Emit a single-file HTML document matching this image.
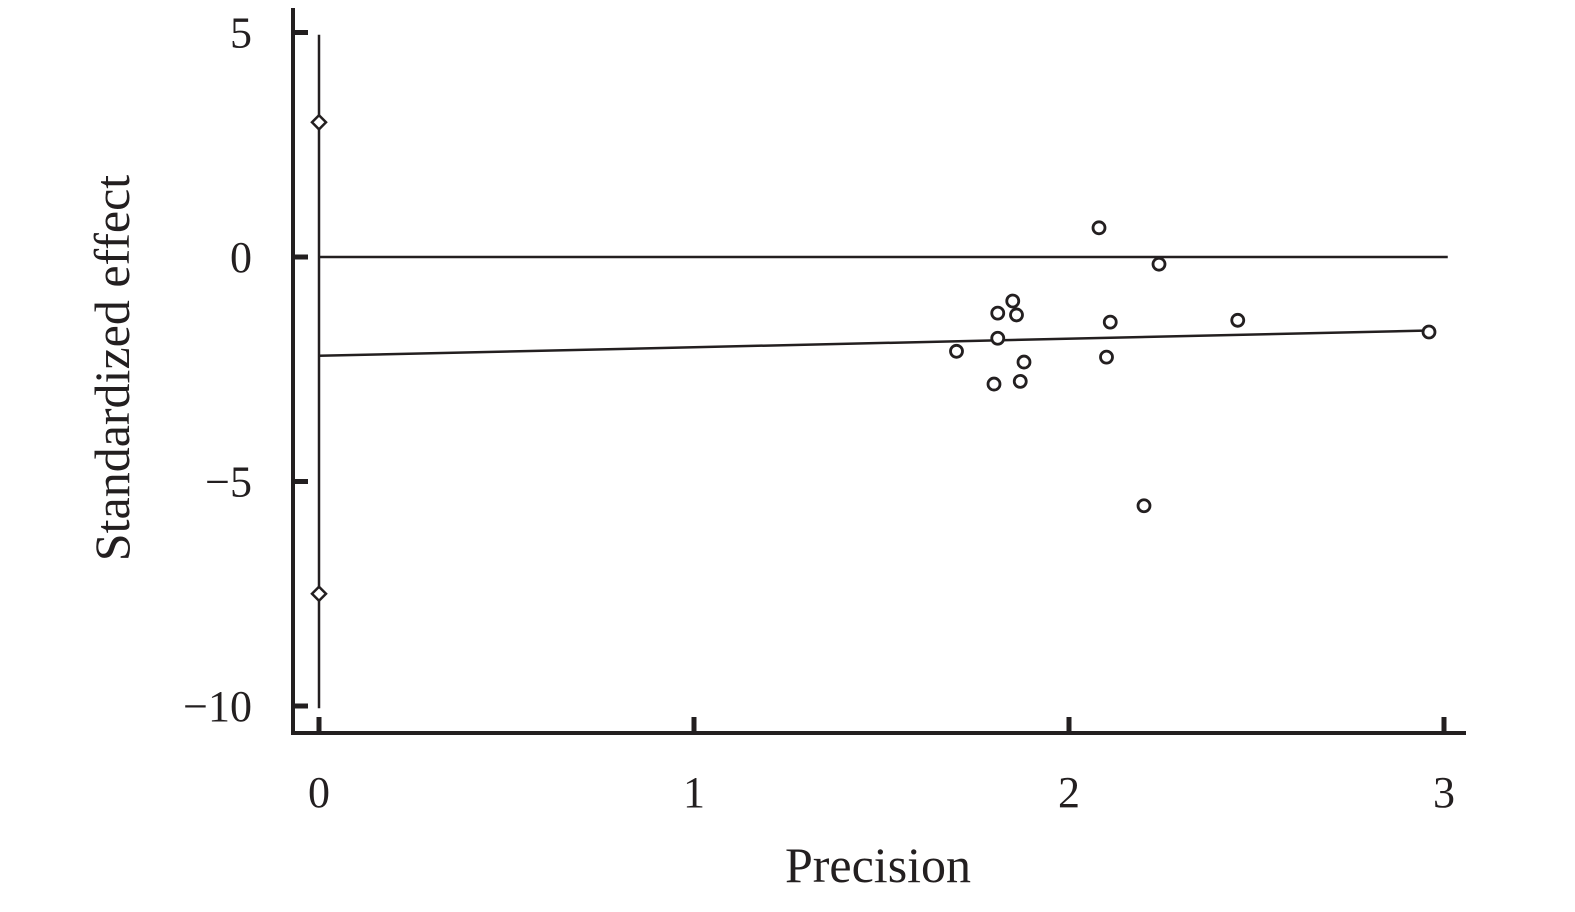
<!DOCTYPE html>
<html><head><meta charset="utf-8"><style>
body{margin:0;background:#fff}
svg text{font-family:"Liberation Serif",serif;fill:#231f20}
</style></head><body>
<svg width="1575" height="907" viewBox="0 0 1575 907">
<g id="plot"></g>
</svg>
<script>
const xTicks=[0,1,2,3];
const yTicks=[5,0,-5,-10];
const precision=[1.70,1.80,1.81,1.81,1.85,1.86,1.87,1.88,2.08,2.10,2.11,2.20,2.24,2.45,2.96];
const effect=[-2.10,-2.83,-1.25,-1.81,-0.98,-1.29,-2.77,-2.34,0.65,-2.23,-1.45,-5.54,-0.16,-1.41,-1.67];
const regIntercept=-2.2;
const regSlope=0.19;
const ciValues=[3,-7.5];

const X=v=>319+v*375;
const Y=v=>257-v*44.9;
const NS='http://www.w3.org/2000/svg';
const g=document.getElementById('plot');
function mk(t,a){const e=document.createElementNS(NS,t);for(const k in a)e.setAttribute(k,a[k]);g.appendChild(e);return e;}
const C='#231f20';
let e;
e=mk('line',{x1:293,y1:8,x2:293,y2:735,stroke:C,'stroke-width':4});


e=mk('line',{x1:291,y1:733,x2:1466,y2:733,stroke:C,'stroke-width':4});


xTicks.forEach(v=>{
 e=mk('line',{x1:X(v),y1:731,x2:X(v),y2:717,stroke:C,'stroke-width':5});
 
 
 e=mk('text',{x:X(v),y:807,'text-anchor':'middle','font-size':44});
 e.textContent=v;
 
 
});
yTicks.forEach(v=>{
 e=mk('line',{x1:295,y1:Y(v),x2:308,y2:Y(v),stroke:C,'stroke-width':5});
 
 
 e=mk('text',{x:252,y:Y(v)+15,'text-anchor':'end','font-size':44});
 e.textContent=v<0?'\u2212'+(-v):v;
 
 
});
e=mk('line',{x1:X(0),y1:Y(4.95),x2:X(0),y2:Y(-10.05),stroke:C,'stroke-width':2.5});


ciValues.forEach(v=>{
 const cx=X(0),cy=Y(v);
 e=mk('path',{d:`M${cx-7} ${cy}L${cx} ${cy-7}L${cx+7} ${cy}L${cx} ${cy+7}Z`,fill:'#fff',stroke:C,'stroke-width':2.5});
 
 
});
e=mk('line',{x1:X(0),y1:Y(0),x2:X(3.01),y2:Y(0),stroke:C,'stroke-width':2.5});


e=mk('line',{x1:X(0),y1:Y(regIntercept),x2:X(2.96),y2:Y(regIntercept+regSlope*2.96),stroke:C,'stroke-width':2.5});


precision.forEach((p,i)=>{
 e=mk('circle',{cx:X(p),cy:Y(effect[i]),r:6,fill:'#fff',stroke:C,'stroke-width':2.8});
 
 
});
e=mk('text',{x:878,y:882,'text-anchor':'middle','font-size':50});
e.textContent='Precision';


e=mk('text',{x:0,y:0,'text-anchor':'middle','font-size':50,transform:'translate(129,368) rotate(-90)'});
e.textContent='Standardized effect';


</script>
</body></html>
